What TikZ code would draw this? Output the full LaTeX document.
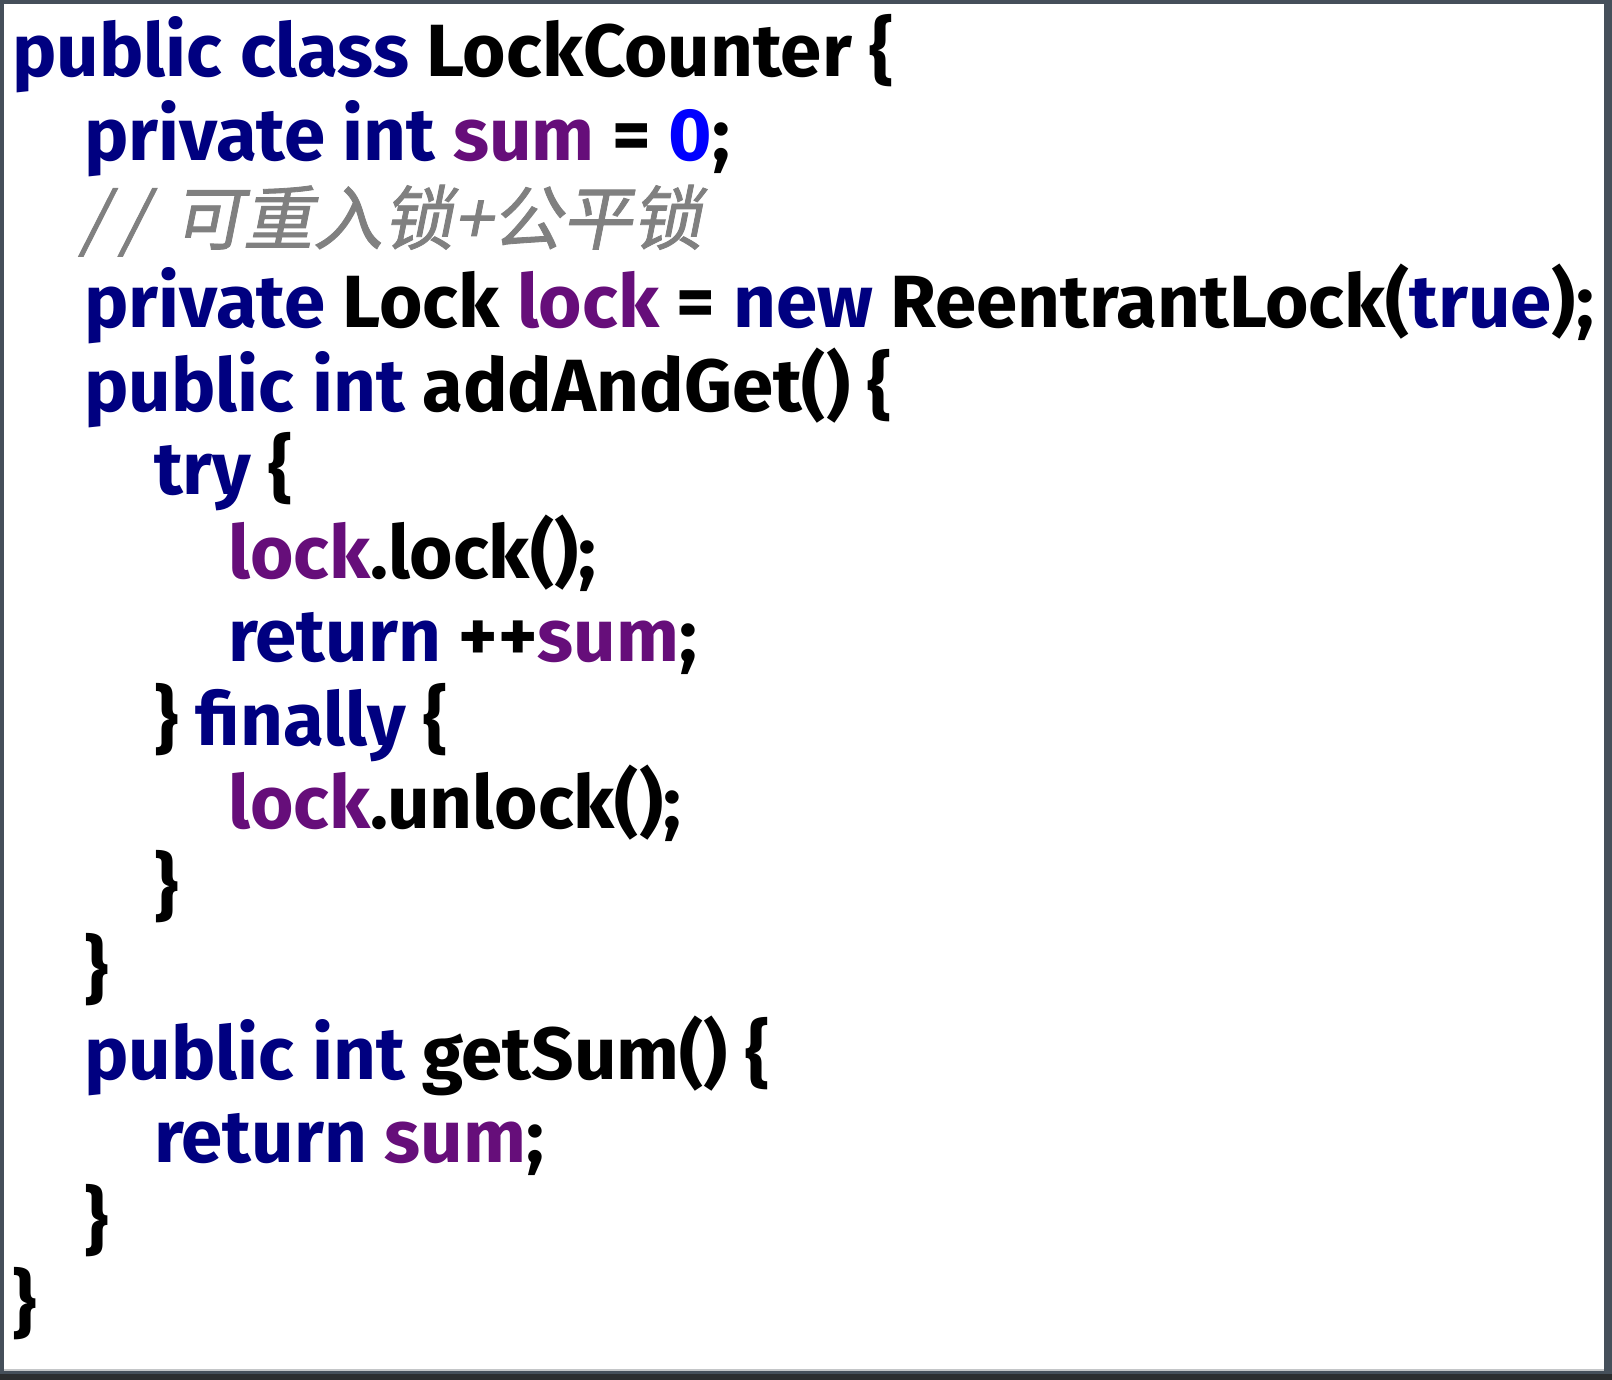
\documentclass[tikz,border=0pt]{standalone}
\usepackage{fontspec}
\newfontfamily\codefont[FakeStretch=1.006]{Fira Sans}
\newfontfamily\cjkfont[FakeSlant=0.2,FakeBold=1.2]{Noto Sans CJK SC}
\definecolor{kwcol}{HTML}{000080}
\definecolor{varcol}{HTML}{660E7A}
\definecolor{numcol}{HTML}{0000FF}
\definecolor{cmtcol}{HTML}{808080}
\definecolor{framecol}{HTML}{454F5A}
\definecolor{framedark}{HTML}{2B2D2F}
\definecolor{edgecol}{HTML}{C4C6C8}
\newcommand\kwd[1]{\textcolor{kwcol}{#1}}
\newcommand\vard[1]{\textcolor{varcol}{#1}}
\newcommand\numd[1]{\textcolor{numcol}{#1}}
\begin{document}
\begin{tikzpicture}[x=1pt,y=-1pt,
  code/.style={anchor=base west, inner sep=0pt, text=black,
    font=\codefont\bfseries\fontsize{74}{88}\selectfont},
  cmt/.style={anchor=base west, inner sep=0pt, text=cmtcol,
    font=\cjkfont\fontsize{70}{84}\selectfont}]
\useasboundingbox (0,0) rectangle (1612,1380);
\fill[framecol] (0,0) rectangle (1612,1380);
\fill[framedark] (0,1374) rectangle (1612,1380);
\fill[edgecol] (4,1368) rectangle (1604,1371);
\fill[white] (4,4) rectangle (1604,1369);
\node[code] (l1)  at (12,77)    {\kwd{public class} LockCounter \{};
\node[code] (l2)  at (84,160.5) {\kwd{private int} \vard{sum} = \numd{0};};
\node[cmt]  (l3)  at (80,244)   {/\kern12pt/\kern26pt 可重入锁+公平锁};
\node[code] (l4)  at (84,327.5) {\kwd{private} Lock \vard{lock} = \kwd{new} ReentrantLock(\kwd{true});};
\node[code] (l5)  at (84,411)   {\kwd{public int} addAndGet() \{};
\node[code] (l6)  at (154,494.5) {\kwd{try} \{};
\node[code] (l7)  at (228,578)  {\vard{lock}.lock();};
\node[code] (l8)  at (228,661.5) {\kwd{return} ++\vard{sum};};
\node[code] (l9)  at (154,745)  {\} \kwd{finally} \{};
\node[code] (l10) at (228,828.5) {\vard{lock}.unlock();};
\node[code] (l11) at (154,912)  {\}};
\node[code] (l12) at (84,995.5) {\}};
\node[code] (l13) at (84,1079)  {\kwd{public int} getSum() \{};
\node[code] (l14) at (154,1162.5) {\kwd{return} \vard{sum};};
\node[code] (l15) at (84,1246)  {\}};
\node[code] (l16) at (12,1329.5) {\}};
\end{tikzpicture}
\end{document}
